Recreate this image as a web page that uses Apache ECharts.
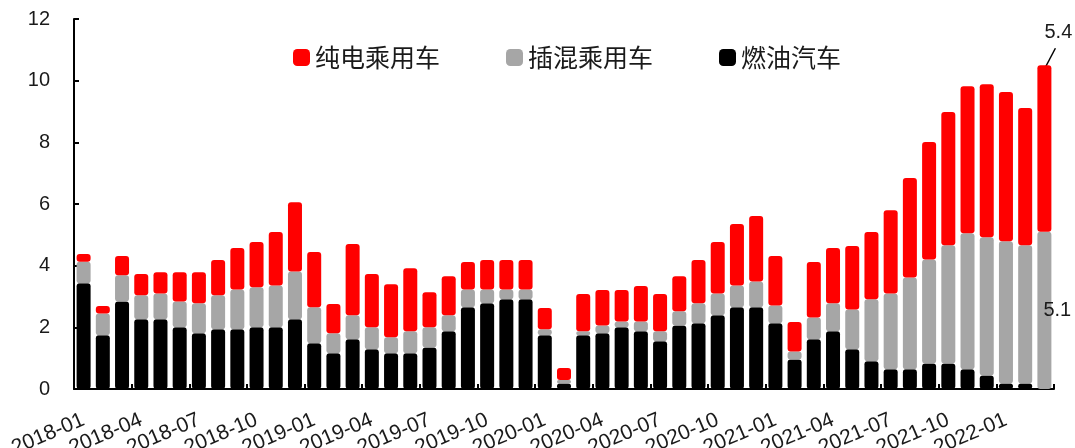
<!DOCTYPE html>
<html>
<head>
<meta charset="utf-8">
<script src="https://cdn.jsdelivr.net/npm/echarts@6/dist/echarts.min.js"></script>
<style>
  html, body { margin: 0; padding: 0; background: #fff; overflow: hidden; }
  #chart { width: 1075px; height: 448px; }
</style>
</head>
<body>
<div id="chart"></div>
<script>
// Monthly passenger-car figures, stacked by powertrain
const months = [
  '2018-01','2018-02','2018-03','2018-04','2018-05','2018-06','2018-07','2018-08','2018-09','2018-10','2018-11','2018-12',
  '2019-01','2019-02','2019-03','2019-04','2019-05','2019-06','2019-07','2019-08','2019-09','2019-10','2019-11','2019-12',
  '2020-01','2020-02','2020-03','2020-04','2020-05','2020-06','2020-07','2020-08','2020-09','2020-10','2020-11','2020-12',
  '2021-01','2021-02','2021-03','2021-04','2021-05','2021-06','2021-07','2021-08','2021-09','2021-10','2021-11','2021-12',
  '2022-01','2022-02','2022-03'
];

// 燃油汽车
const fuel = [
  3.43,1.74,2.84,2.26,2.26,2.00,1.81,1.94,1.94,2.00,2.00,2.26,
  1.48,1.16,1.61,1.29,1.16,1.16,1.35,1.87,2.65,2.78,2.91,2.91,
  1.74,0.18,1.74,1.81,2.00,1.87,1.55,2.06,2.13,2.39,2.65,2.65,
  2.13,0.96,1.61,1.87,1.29,0.90,0.64,0.64,0.83,0.83,0.64,0.44,
  0.18,0.18,0
];

// 插混乘用车
const phev = [
  0.70,0.71,0.85,0.78,0.84,0.84,0.97,1.10,1.29,1.30,1.36,1.55,
  1.17,0.65,0.78,0.71,0.52,0.71,0.65,0.52,0.58,0.45,0.32,0.32,
  0.20,0.11,0.13,0.25,0.19,0.32,0.32,0.46,0.65,0.71,0.71,0.84,
  0.58,0.26,0.71,0.91,1.29,2.01,2.46,2.98,3.37,3.83,4.41,4.48,
  4.61,4.48,5.1
];

// 纯电乘用车
const bev = [
  0.25,0.24,0.62,0.69,0.69,0.95,1.01,1.14,1.34,1.47,1.73,2.25,
  1.79,0.95,2.31,1.73,1.72,2.05,1.14,1.27,0.89,0.95,0.95,0.95,
  0.69,0.39,1.21,1.15,1.02,1.15,1.21,1.14,1.40,1.67,1.99,2.12,
  1.60,0.95,1.80,1.79,2.06,2.18,2.70,3.22,3.81,4.32,4.77,4.96,
  4.84,4.45,5.4
];

const yTicks = { min: 0, max: 12, interval: 2 };

const lastIdx = months.length - 1;
const TEXT = '#1a1a1a';
const NUM_FONT = '"Liberation Sans", Arial, sans-serif';
const CJK_FONT = '"Noto Sans CJK SC", "Noto Sans", sans-serif';

const lastOnly = p => (p.dataIndex === lastIdx ? String(p.value) : '');
const everyQuarter = i => i % 3 === 0;

const chart = echarts.init(document.getElementById('chart'), null, { renderer: 'canvas' });

const option = {
  animation: false,
  backgroundColor: '#ffffff',
  grid: { left: 74, right: 21, top: 19, bottom: 59, containLabel: false, outerBoundsMode: 'none' },
  legend: {
    left: 293,
    top: 45,
    padding: 0,
    itemWidth: 17,
    itemHeight: 17,
    itemGap: 66,
    icon: 'roundRect',
    textStyle: { fontFamily: CJK_FONT, fontSize: 25, color: TEXT },
    data: ['纯电乘用车', '插混乘用车', '燃油汽车']
  },
  xAxis: {
    type: 'category',
    data: months,
    boundaryGap: true,
    axisLine: { lineStyle: { color: '#000', width: 2 } },
    axisTick: { show: true, inside: true, length: 5, interval: everyQuarter, lineStyle: { color: '#000', width: 2 } },
    axisLabel: {
      // every month gets a label slot; only quarter starts carry text
      interval: 0,
      formatter: (value, index) => (everyQuarter(index) ? value : ''),
      rotate: 23,
      margin: 30,
      fontFamily: NUM_FONT,
      fontSize: 21,
      color: TEXT
    },
    splitLine: { show: false }
  },
  yAxis: {
    type: 'value',
    min: yTicks.min,
    max: yTicks.max,
    interval: yTicks.interval,
    axisLine: { show: true, lineStyle: { color: '#000', width: 2 } },
    axisTick: { show: true, inside: true, length: 5, lineStyle: { color: '#000', width: 2 } },
    axisLabel: { margin: 24, fontFamily: NUM_FONT, fontSize: 20, color: TEXT },
    splitLine: { show: false }
  },
  series: [
    {
      name: '燃油汽车',
      type: 'bar',
      stack: 'total',
      barWidth: 14,
      data: fuel,
      itemStyle: { color: '#000000', borderRadius: 3 }
    },
    {
      name: '插混乘用车',
      type: 'bar',
      stack: 'total',
      barWidth: 14,
      data: phev,
      itemStyle: { color: '#a6a6a6', borderRadius: 3 },
      label: {
        show: true,
        position: 'right',
        offset: [-13, 0],
        formatter: lastOnly,
        fontFamily: NUM_FONT,
        fontSize: 20,
        color: TEXT
      }
    },
    {
      name: '纯电乘用车',
      type: 'bar',
      stack: 'total',
      barWidth: 14,
      data: bev,
      itemStyle: { color: '#ff0000', borderRadius: 3 },
      label: {
        show: true,
        position: 'top',
        offset: [14, -18],
        formatter: lastOnly,
        fontFamily: NUM_FONT,
        fontSize: 20,
        color: TEXT
      }
    }
  ]
};

chart.setOption(option);

// Leader line from the top of the final bar up to its value label
const stackTotal = fuel[lastIdx] + phev[lastIdx] + bev[lastIdx];
const barTop = chart.convertToPixel({ xAxisIndex: 0, yAxisIndex: 0 }, [months[lastIdx], stackTotal]);
chart.setOption({
  graphic: [{
    type: 'line',
    shape: { x1: barTop[0] + 1, y1: barTop[1] + 2, x2: barTop[0] + 11, y2: barTop[1] - 17 },
    style: { stroke: '#000', lineWidth: 1.5 },
    silent: true
  }]
});
</script>
</body>
</html>
